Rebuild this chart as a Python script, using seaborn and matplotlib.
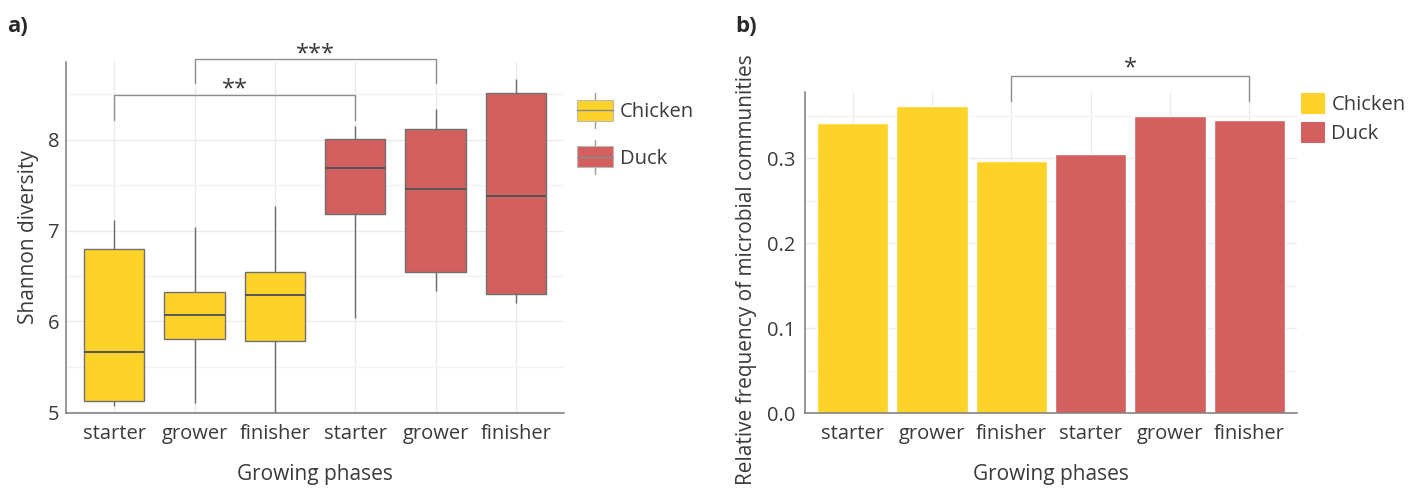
import matplotlib
matplotlib.use("Agg")
import matplotlib.pyplot as plt
from matplotlib.patches import Rectangle
from matplotlib.lines import Line2D
from matplotlib.legend_handler import HandlerBase
from matplotlib.ticker import MultipleLocator, FormatStrFormatter
import numpy as np
import pandas as pd
import seaborn as sns

# ---- data -------------------------------------------------------------
species = ["Chicken", "Chicken", "Chicken", "Duck", "Duck", "Duck"]
phases = ["starter", "grower", "finisher", "starter", "grower", "finisher"]

# Shannon diversity summary per group (whisker ends, quartiles, median)
shannon_min = [5.07, 5.10, 4.95, 6.04, 6.33, 6.20]
shannon_q1 = [5.12, 5.81, 5.78, 7.18, 6.54, 6.30]
shannon_median = [5.66, 6.07, 6.29, 7.69, 7.46, 7.38]
shannon_q3 = [6.80, 6.32, 6.54, 8.01, 8.12, 8.51]
shannon_max = [7.12, 7.04, 7.27, 8.15, 8.34, 8.67]

# Relative frequency of microbial communities per group
rel_freq = [0.341, 0.361, 0.297, 0.305, 0.350, 0.345]

species_order = ["Chicken", "Duck"]
palette = {"Chicken": "#FDD32A", "Duck": "#D35F5F"}

groups = [f"{s} {p}" for s, p in zip(species, phases)]

box_rows = []
for g, s, vals in zip(groups, species,
                      zip(shannon_min, shannon_q1, shannon_median,
                          shannon_q3, shannon_max)):
    for v in vals:
        box_rows.append({"group": g, "species": s, "shannon": v})
box_df = pd.DataFrame(box_rows)

bar_df = pd.DataFrame({"group": groups, "species": species, "freq": rel_freq})

# ---- style ------------------------------------------------------------
sns.set_theme(style="white")
plt.rcParams["font.family"] = ["Open Sans", "DejaVu Sans"]
TEXT = "#3a3a3a"
AXIS = "#7a7a7a"
GRID = "#ebebeb"
GRID_MINOR = "#f3f3f3"
BRACKET = "#8c8c8c"

fig = plt.figure(figsize=(14.19, 4.88), dpi=100)
ax_a = fig.add_axes([0.0465, 0.1537, 0.3510, 0.7199])
ax_b = fig.add_axes([0.5673, 0.1531, 0.3467, 0.6590])


def style_axes(ax):
    ax.set_axisbelow(True)
    for side in ("top", "right"):
        ax.spines[side].set_visible(False)
    for side in ("left", "bottom"):
        ax.spines[side].set_color(AXIS)
        ax.spines[side].set_linewidth(1.1)
    ax.grid(True, which="major", color=GRID, linewidth=1.0)
    ax.grid(True, which="minor", axis="y", color=GRID_MINOR, linewidth=1.0)
    ax.tick_params(axis="both", which="major", length=3, width=1,
                   color=AXIS, labelcolor=TEXT, labelsize=14.5)
    ax.tick_params(axis="y", which="minor", length=0)
    ax.tick_params(axis="y", pad=2)
    ax.tick_params(axis="x", pad=5)
    ax.set_xlim(-0.6, len(groups) - 0.4)
    ax.set_xticks(range(len(groups)))
    ax.set_xticklabels(phases)
    ax.set_xlabel("Growing phases", fontsize=15, color=TEXT, labelpad=14)


# ---- a) Shannon diversity boxplots -----------------------------------
sns.boxplot(data=box_df, x="group", y="shannon", hue="species",
            order=groups, hue_order=species_order, palette=palette,
            saturation=1, dodge=False, width=0.75, whis=(0, 100),
            linecolor="#6a6a6a", linewidth=1.0, legend=False, ax=ax_a,
            capprops={"visible": False},
            medianprops={"color": "#555555", "linewidth": 1.4},
            boxprops={"edgecolor": "#707070"})
style_axes(ax_a)
ax_a.set_ylim(4.99, 8.86)
ax_a.yaxis.set_major_locator(MultipleLocator(1))
ax_a.yaxis.set_minor_locator(MultipleLocator(0.5))
ax_a.set_ylabel("Shannon diversity", fontsize=15, color=TEXT)
ax_a.yaxis.label.set(va="center", ha="center")
ax_a.yaxis.set_label_coords(-0.076, 0.5)

# significance brackets
ax_a.plot([0, 0, 3, 3], [8.22, 8.49, 8.49, 8.22], color=BRACKET,
          linewidth=1.0, clip_on=False)
ax_a.text(1.5, 8.56, "**", ha="center", va="center", fontsize=17,
          color=TEXT, clip_on=False)
ax_a.plot([1, 1, 4, 4], [8.62, 8.89, 8.89, 8.62], color=BRACKET,
          linewidth=1.0, clip_on=False)
ax_a.text(2.5, 8.94, "***", ha="center", va="center", fontsize=17,
          color=TEXT, clip_on=False)


class BoxKeyHandler(HandlerBase):
    def create_artists(self, legend, orig_handle, xdescent, ydescent,
                       width, height, fontsize, trans):
        x0, y0 = -xdescent, -ydescent
        cx = x0 + width / 2
        face = orig_handle.get_facecolor()
        whisk_top = Line2D([cx, cx], [y0 + height, y0 + height * 1.32],
                           color="#9a9a9a", linewidth=1.0, transform=trans)
        whisk_bot = Line2D([cx, cx], [y0, y0 - height * 0.32],
                           color="#9a9a9a", linewidth=1.0, transform=trans)
        box = Rectangle((x0, y0), width, height, facecolor=face,
                        edgecolor="#b8b8b8", linewidth=0.8, transform=trans)
        med = Line2D([x0, x0 + width], [y0 + height / 2] * 2,
                     color="#8a8a8a", linewidth=1.0, transform=trans)
        return [whisk_top, whisk_bot, box, med]


key_handles = [Rectangle((0, 0), 1, 1, facecolor=palette[s]) for s in species_order]
leg_a = ax_a.legend(key_handles, species_order,
                    handler_map={Rectangle: BoxKeyHandler()},
                    loc="upper left", bbox_to_anchor=(576.7 / 1419, 1 - 100 / 488),
                    bbox_transform=fig.transFigure, frameon=False,
                    fontsize=14.5, handlelength=1.8, handleheight=1.22,
                    labelspacing=1.2, handletextpad=0.35, borderpad=0,
                    borderaxespad=0, labelcolor=TEXT)

# ---- b) relative frequency bars ---------------------------------------
sns.barplot(data=bar_df, x="group", y="freq", hue="species",
            order=groups, hue_order=species_order, palette=palette,
            dodge=False, width=0.9, saturation=1, legend=False, ax=ax_b)
style_axes(ax_b)
ax_b.set_ylim(0, 0.378)
ax_b.yaxis.set_major_locator(MultipleLocator(0.1))
ax_b.yaxis.set_minor_locator(MultipleLocator(0.05))
ax_b.yaxis.set_major_formatter(FormatStrFormatter("%.1f"))
ax_b.tick_params(axis="y", pad=4)
ax_b.set_ylabel("Relative frequency of microbial communities", fontsize=15,
                color=TEXT)
ax_b.yaxis.label.set(va="center", ha="center")
ax_b.yaxis.set_label_coords(-0.119, 0.446)

ax_b.plot([2, 2, 5, 5], [0.367, 0.396, 0.396, 0.367], color=BRACKET,
          linewidth=1.0, clip_on=False)
ax_b.text(3.5, 0.405, "*", ha="center", va="center", fontsize=17,
          color=TEXT, clip_on=False)

square_handles = [Rectangle((0, 0), 1, 1, facecolor=palette[s], edgecolor="none")
                  for s in species_order]
leg_b = ax_b.legend(square_handles, species_order, loc="upper left",
                    bbox_to_anchor=(1300.7 / 1419, 1 - 93 / 488),
                    bbox_transform=fig.transFigure, frameon=False,
                    fontsize=14.5, handlelength=1.22, handleheight=1.22,
                    labelspacing=0.32, handletextpad=0.3, borderpad=0,
                    borderaxespad=0, labelcolor=TEXT)

# ---- panel tags -------------------------------------------------------
fig.text(7 / 1419, 1 - 27 / 488, "a)", fontsize=16, fontweight="bold",
         color="#2a2a2a", va="center", ha="left")
fig.text(735 / 1419, 1 - 27 / 488, "b)", fontsize=16, fontweight="bold",
         color="#2a2a2a", va="center", ha="left")

fig.savefig("out.png", dpi=100, facecolor="white")
